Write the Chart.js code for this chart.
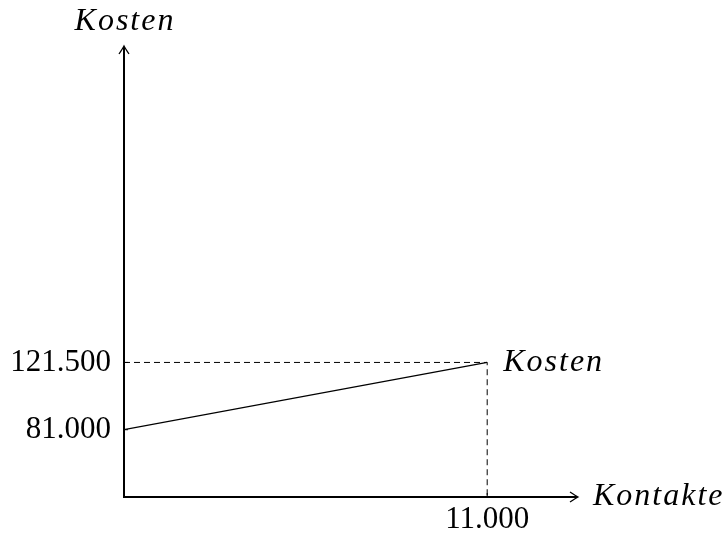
<!DOCTYPE html>
<html>
<head>
<meta charset="utf-8">
<script src="https://cdn.jsdelivr.net/npm/chart.js@4/dist/chart.umd.min.js"></script>
<style>
  html, body { margin: 0; padding: 0; background: #fff; }
  #wrap { width: 723px; height: 536px; }
</style>
</head>
<body>
<div id="wrap"><canvas id="grafico"></canvas></div>
<script>
// Werte aus dem Bild
const kontakte = [0, 11000];
const kosten = [81000, 121500];
const xTicks = [11000];
const yTicks = [81000, 121500];
const xRange = [0, 13750];
const yRange = [40500, 312000];

const serif = '"Liberation Serif", "DejaVu Serif", serif';
const fmt = v => v.toLocaleString('de-DE');

function pfeil(ctx, x, y, dx, dy) {
  // kleine TikZ-artige Pfeilspitze, (dx,dy) = Richtung
  const px = -dy, py = dx;
  ctx.beginPath();
  ctx.moveTo(x - dx * 8 + px * 5, y - dy * 8 + py * 5);
  ctx.quadraticCurveTo(x - dx * 2 + px * 1, y - dy * 2 + py * 1, x, y);
  ctx.quadraticCurveTo(x - dx * 2 - px * 1, y - dy * 2 - py * 1, x - dx * 8 - px * 5, y - dy * 8 - py * 5);
  ctx.lineWidth = 1.3;
  ctx.stroke();
}

const achsenPlugin = {
  id: 'achsen',
  beforeDatasetsDraw(chart) {
    const ctx = chart.ctx;
    const xs = chart.scales.x, ys = chart.scales.y;
    const x1 = xs.getPixelForValue(kontakte[1]);
    const y1 = ys.getPixelForValue(kosten[1]);
    ctx.save();
    ctx.strokeStyle = '#000';
    ctx.lineWidth = 1;
    ctx.setLineDash([6, 4]);
    ctx.beginPath();
    ctx.moveTo(xs.getPixelForValue(0), y1);
    ctx.lineTo(x1, y1);
    ctx.lineTo(x1, ys.bottom);
    ctx.stroke();
    ctx.restore();
  },
  afterDraw(chart) {
    const ctx = chart.ctx;
    const xs = chart.scales.x, ys = chart.scales.y;
    const x0 = xs.left, y0 = ys.bottom;
    ctx.save();
    ctx.strokeStyle = '#000';
    ctx.fillStyle = '#000';

    // Achsen
    ctx.lineWidth = 2;
    ctx.beginPath();
    ctx.moveTo(x0, y0);
    ctx.lineTo(x0, ys.top + 1);
    ctx.moveTo(x0 - 1, y0);
    ctx.lineTo(xs.right - 1, y0);
    ctx.stroke();
    pfeil(ctx, x0, ys.top, 0, -1);
    pfeil(ctx, xs.right, y0, 1, 0);

    // kleine Striche
    ctx.lineWidth = 1;
    yTicks.forEach(v => {
      const y = ys.getPixelForValue(v);
      ctx.beginPath();
      ctx.moveTo(x0, y);
      ctx.lineTo(x0 + 4, y);
      ctx.stroke();
    });
    xTicks.forEach(v => {
      const x = xs.getPixelForValue(v);
      ctx.beginPath();
      ctx.moveTo(x, y0);
      ctx.lineTo(x, y0 - 4);
      ctx.stroke();
    });

    // Beschriftungen
    ctx.font = 'italic 32px ' + serif;
    ctx.letterSpacing = '2px';
    ctx.textBaseline = 'middle';
    ctx.textAlign = 'center';
    ctx.fillText('Kosten', x0 + 1, 22);
    ctx.textAlign = 'left';
    ctx.fillText('Kosten', xs.getPixelForValue(kontakte[1]) + 16, ys.getPixelForValue(kosten[1]));
    ctx.fillText('Kontakte', xs.right + 15, y0);
    ctx.restore();
  }
};

new Chart(document.getElementById('grafico').getContext('2d'), {
  type: 'line',
  data: {
    datasets: [{
      label: 'Kosten',
      data: kontakte.map((k, i) => ({ x: k, y: kosten[i] })),
      borderColor: '#000',
      borderWidth: 1.3,
      pointRadius: 0,
      fill: false,
      tension: 0
    }]
  },
  options: {
    responsive: true,
    maintainAspectRatio: false,
    animation: false,
    layout: {
      padding: { top: 46, right: 145, bottom: 0, left: 0 }
    },
    scales: {
      x: {
        type: 'linear',
        min: xRange[0],
        max: xRange[1],
        afterFit: s => { s.height = 39; },
        afterBuildTicks: s => { s.ticks = xTicks.map(v => ({ value: v })); },
        grid: { display: false },
        border: { display: false },
        ticks: {
          color: '#000',
          padding: -4,
          maxRotation: 0,
          font: { family: serif, size: 31 },
          callback: v => fmt(v)
        }
      },
      y: {
        type: 'linear',
        min: yRange[0],
        max: yRange[1],
        afterFit: s => { s.width = 124; },
        afterBuildTicks: s => { s.ticks = yTicks.map(v => ({ value: v })); },
        grid: { display: false },
        border: { display: false },
        ticks: {
          color: '#000',
          padding: 5,
          font: { family: serif, size: 31 },
          callback: v => fmt(v)
        }
      }
    },
    plugins: {
      legend: { display: false },
      tooltip: { enabled: false }
    }
  },
  plugins: [achsenPlugin]
});
</script>
</body>
</html>
